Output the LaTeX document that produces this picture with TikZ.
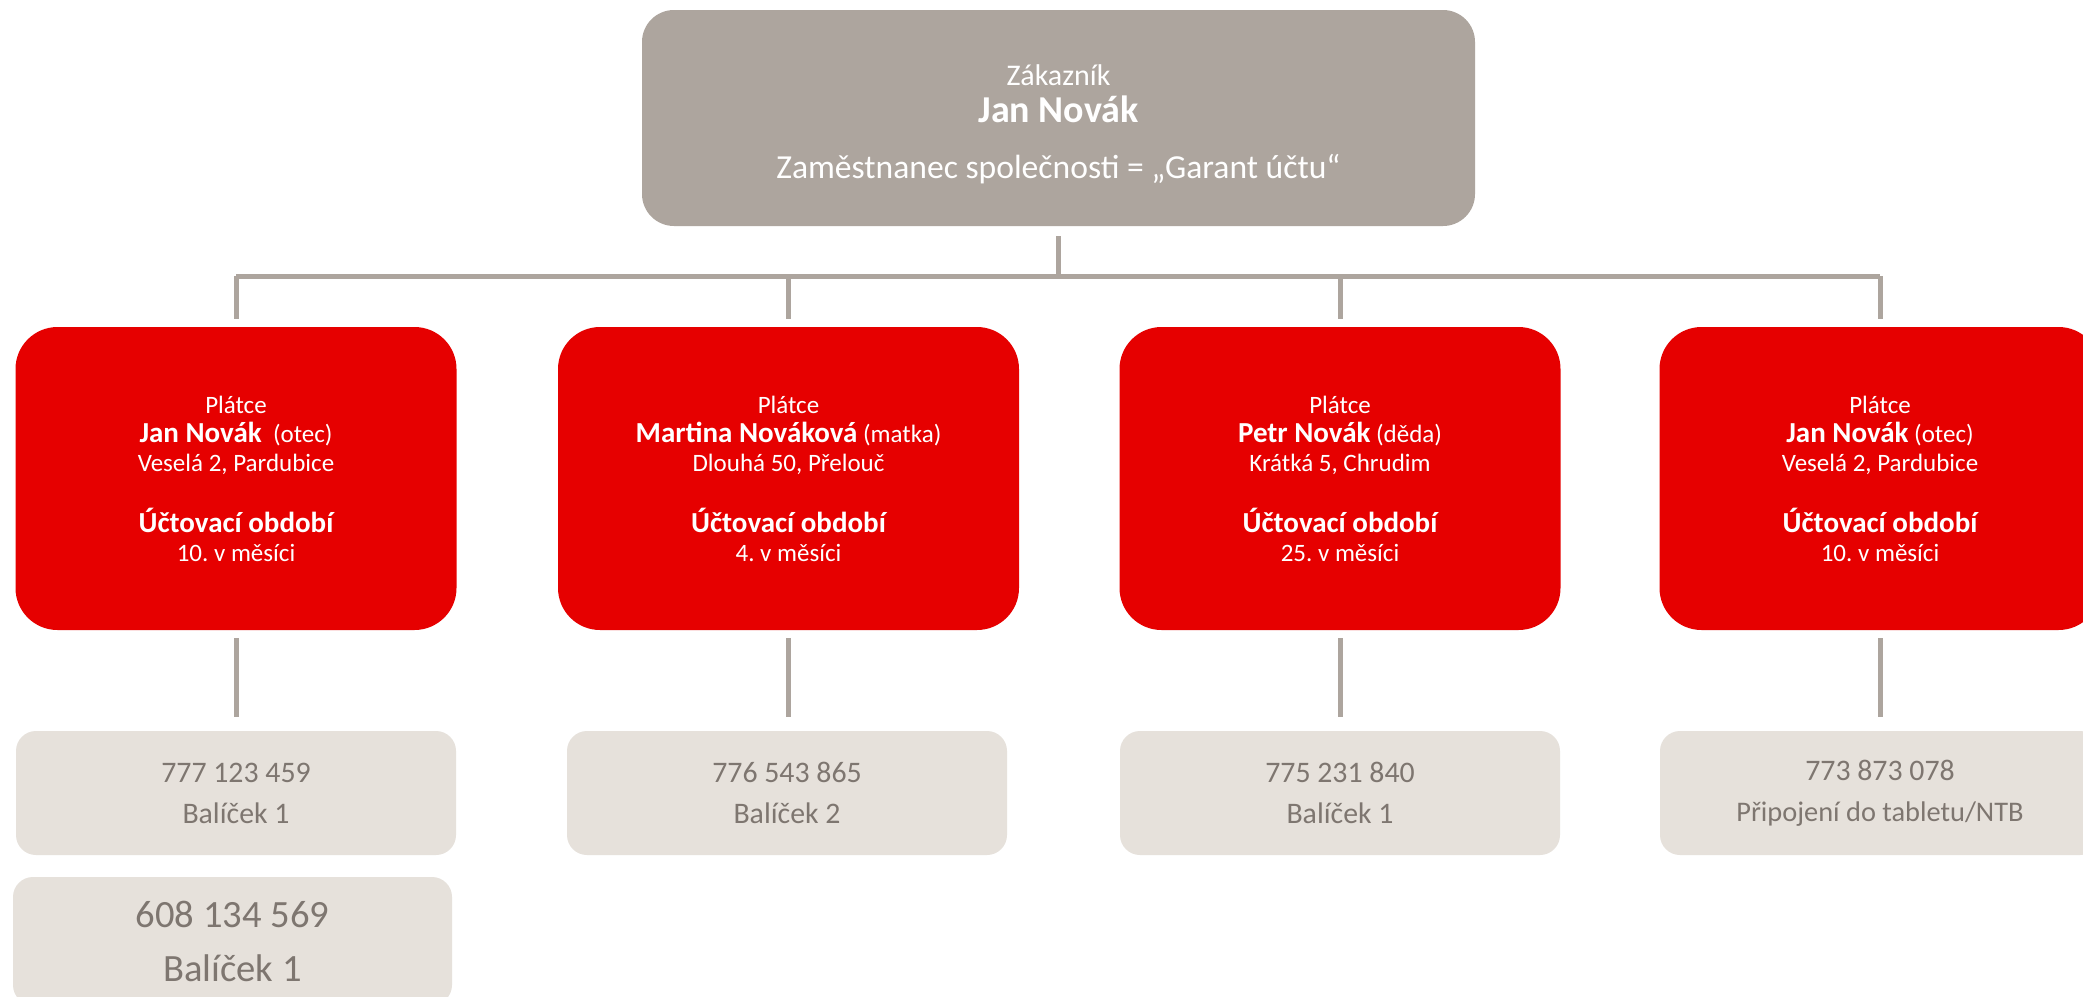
\documentclass[tikz,border=0pt]{standalone}
\usepackage{fontspec}
\setmainfont{Carlito}
\frenchspacing
\definecolor{vred}{HTML}{E60000}
\definecolor{vgrey}{HTML}{ADA59E}
\definecolor{vlight}{HTML}{E6E1DB}
\definecolor{vtext}{HTML}{7E7670}
\newcommand{\bfx}[1]{{\fontsize{14.5}{14.5}\selectfont\bfseries #1}}
\tikzset{
  topbox/.style={fill=vgrey, rounded corners=16pt, minimum width=416.5pt, minimum height=108pt, text=white, align=center, inner sep=0pt, font=\fontsize{15}{15.3}\selectfont},
  payer/.style={fill=vred, rounded corners=21pt, minimum height=151.5pt, text=white, align=center, inner sep=0pt, font=\fontsize{12.5}{14.5}\selectfont},
  numbox/.style={fill=vlight, rounded corners=10pt, minimum width=220pt, minimum height=62pt, text=vtext, align=center, inner sep=0pt, font=\fontsize{14.9}{20.5}\selectfont},
  bignum/.style={fill=vlight, rounded corners=10pt, minimum width=219.5pt, minimum height=64pt, text=vtext, align=center, inner sep=0pt, font=\fontsize{19.3}{27}\selectfont},
  conn/.style={draw=vgrey, line width=2.5pt}
}
\begin{document}
\begin{tikzpicture}[x=0.5pt, y=-0.5pt]
\clip (0,0) rectangle (2083,996);
\fill[white] (0,0) rectangle (2083,996);
\node[topbox] (top) at (1058.5,118) {\rule{0pt}{17pt}Zákazník\\[3pt]
{\fontsize{19}{15.3}\selectfont\bfseries Jan Novák}\\[13pt]
{\fontsize{16.8}{15.3}\selectfont Zaměstnanec společnosti = „Garant účtu“}};
\node[payer, minimum width=220.5pt] (p1) at (236,478.5) {Plátce\\ \bfx{Jan Novák}\ \ (otec)\\ Veselá 2, Pardubice\\[16pt] \bfx{Účtovací období}\\ 10. v měsíci};
\node[payer, minimum width=230.5pt] (p2) at (788.5,478.5) {Plátce\\ \bfx{Martina Nováková} (matka)\\ Dlouhá 50, Přelouč\\[16pt] \bfx{Účtovací období}\\ 4. v měsíci};
\node[payer, minimum width=220.5pt] (p3) at (1340,478.5) {Plátce\\ \bfx{Petr Novák} (děda)\\ Krátká 5, Chrudim\\[16pt] \bfx{Účtovací období}\\ 25. v měsíci};
\node[payer, minimum width=220.5pt] (p4) at (1880,478.5) {Plátce\\ \bfx{Jan Novák} (otec)\\ Veselá 2, Pardubice\\[16pt] \bfx{Účtovací období}\\ 10. v měsíci};
\node[numbox] (n1) at (236,793) {777 123 459\\ Balíček 1};
\node[numbox] (n2) at (787,793) {776 543 865\\ Balíček 2};
\node[numbox] (n3) at (1340,793) {775 231 840\\ Balíček 1};
\node[numbox] (n4) at (1880,793) {773 873 078\\ {\fontsize{14.2}{20.5}\selectfont Připojení do tabletu/NTB}};
\node[bignum] (n5) at (232.5,941) {608 134 569\\ Balíček 1};
\coordinate (busL) at (236,276);
\coordinate (busR) at (1880,276);
\coordinate (busC) at (1058.5,276);
\draw[conn] (busL) -- (busR);
\draw[conn] ([yshift=-5pt]top.south) -- (busC);
\foreach \i in {1,2,3,4}{
  \draw[conn] (p\i.north |- busC) -- ([yshift=4pt]p\i.north);
  \draw[conn] ([yshift=-4pt]p\i.south) -- ([yshift=7pt]p\i.south |- n\i.north);
}
\end{tikzpicture}
\end{document}
